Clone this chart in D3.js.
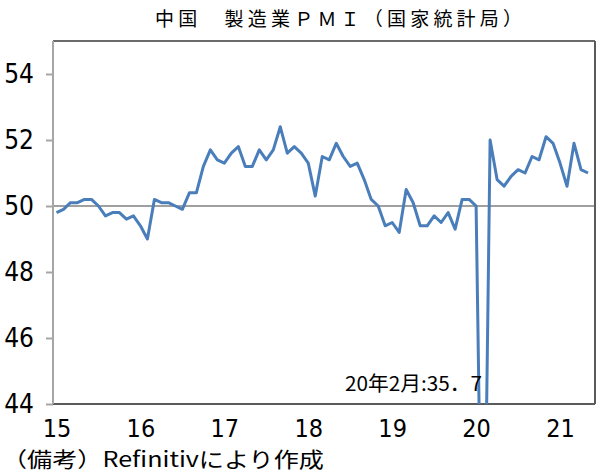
<!DOCTYPE html>
<html>
<head>
<meta charset="utf-8">
<script src="https://cdn.jsdelivr.net/npm/d3@7"></script>
<style>
  body { margin: 0; background: #fff; }
  .num { font-family: "DejaVu Sans Condensed", "Liberation Sans Narrow", "DejaVu Sans", sans-serif; font-stretch: condensed; }
  .jp { font-family: "Noto Sans CJK JP", sans-serif; }
</style>
</head>
<body>
<svg id="chart" width="604" height="474"></svg>
<script>
// month index 0 = 2015 Jan
var pmi2015 = [49.8, 49.9, 50.1, 50.1, 50.2, 50.2, 50.0, 49.7, 49.8, 49.8, 49.6, 49.7];
var pmi2016 = [49.4, 49.0, 50.2, 50.1, 50.1, 50.0, 49.9, 50.4, 50.4, 51.2, 51.7, 51.4];
var pmi2017 = [51.3, 51.6, 51.8, 51.2, 51.2, 51.7, 51.4, 51.7, 52.4, 51.6, 51.8, 51.6];
var pmi2018 = [51.3, 50.3, 51.5, 51.4, 51.9, 51.5, 51.2, 51.3, 50.8, 50.2, 50.0, 49.4];
var pmi2019 = [49.5, 49.2, 50.5, 50.1, 49.4, 49.4, 49.7, 49.5, 49.8, 49.3, 50.2, 50.2];
var pmi2020 = [50.0, 35.7, 52.0, 50.8, 50.6, 50.9, 51.1, 51.0, 51.5, 51.4, 52.1, 51.9];
var pmi2021 = [51.3, 50.6, 51.9, 51.1, 51.0];

var yearLabels = ["15", "16", "17", "18", "19", "20", "21"];
var yTicks = [44, 46, 48, 50, 52, 54];
var noteText = "20年2月:35．7";

var values = [].concat(pmi2015, pmi2016, pmi2017, pmi2018, pmi2019, pmi2020, pmi2021);

var svg = d3.select("#chart");
var plotL = 53, plotR = 595, plotT = 41, plotB = 404;

var x = d3.scaleLinear().domain([-0.5, 77]).range([plotL, plotR]);
var y = d3.scaleLinear().domain([44, 55]).range([plotB, plotT]);

//Title
svg.append("text").attr("class", "jp")
    .attr("x", 155).attr("y", 26)
    .attr("font-size", 19).attr("letter-spacing", 4.2)
    .text("中国　製造業ＰＭＩ（国家統計局）");

svg.append("clipPath").attr("id", "plotClip")
    .append("rect").attr("x", plotL).attr("y", plotT)
    .attr("width", plotR - plotL).attr("height", plotB - plotT);

//50 line
svg.append("line")
    .attr("x1", plotL).attr("x2", plotR)
    .attr("y1", y(50)).attr("y2", y(50))
    .attr("stroke", "#a0a0a0").attr("stroke-width", 2);

//Frame
svg.append("line").attr("x1", plotL).attr("x2", plotR).attr("y1", plotT).attr("y2", plotT)
    .attr("stroke", "#6a6a6a").attr("stroke-width", 2);
svg.append("line").attr("x1", plotR).attr("x2", plotR).attr("y1", plotT).attr("y2", plotB)
    .attr("stroke", "#5a5a5a").attr("stroke-width", 2);
svg.append("line").attr("x1", plotL).attr("x2", plotR).attr("y1", plotB).attr("y2", plotB)
    .attr("stroke", "#5a5a5a").attr("stroke-width", 2);

//Y axis
var yAxis = svg.append("g")
    .attr("transform", "translate(" + plotL + ",0)")
    .call(d3.axisLeft(y).tickValues(yTicks).tickSize(7).tickPadding(12).tickFormat(d3.format("d")));
yAxis.select(".domain").attr("stroke", "#a6a6a6").attr("stroke-width", 2)
    .attr("d", "M0," + plotT + "V" + plotB);
yAxis.selectAll(".tick line").attr("stroke", "#a6a6a6").attr("stroke-width", 2);
yAxis.selectAll(".tick text").attr("class", "num").attr("font-size", 26).attr("fill", "#000");

//X axis
var xAxis = svg.append("g")
    .attr("transform", "translate(0," + plotB + ")")
    .call(d3.axisBottom(x).tickValues(d3.range(0, 84, 12)).tickSize(0).tickPadding(15)
        .tickFormat(function (d, i) { return yearLabels[i]; }));
xAxis.select(".domain").remove();
xAxis.selectAll(".tick text").attr("class", "num").attr("font-size", 25).attr("fill", "#000");

//PMI line
var line = d3.line()
    .x(function (d, i) { return x(i); })
    .y(function (d) { return y(d); });

svg.append("path")
    .datum(values)
    .attr("clip-path", "url(#plotClip)")
    .attr("fill", "none")
    .attr("stroke", "#4a7ebb")
    .attr("stroke-width", 3)
    .attr("stroke-linejoin", "round")
    .attr("d", line);

//Annotation
svg.append("text").attr("class", "jp")
    .attr("x", 345).attr("y", 391)
    .attr("font-size", 20)
    .attr("textLength", 137).attr("lengthAdjust", "spacingAndGlyphs")
    .text(noteText);

//Footnote
svg.append("text").attr("class", "jp")
    .attr("x", 2).attr("y", 467)
    .attr("font-size", 21)
    .attr("textLength", 322).attr("lengthAdjust", "spacingAndGlyphs")
    .text("（備考）Refinitivにより作成");
</script>
</body>
</html>
